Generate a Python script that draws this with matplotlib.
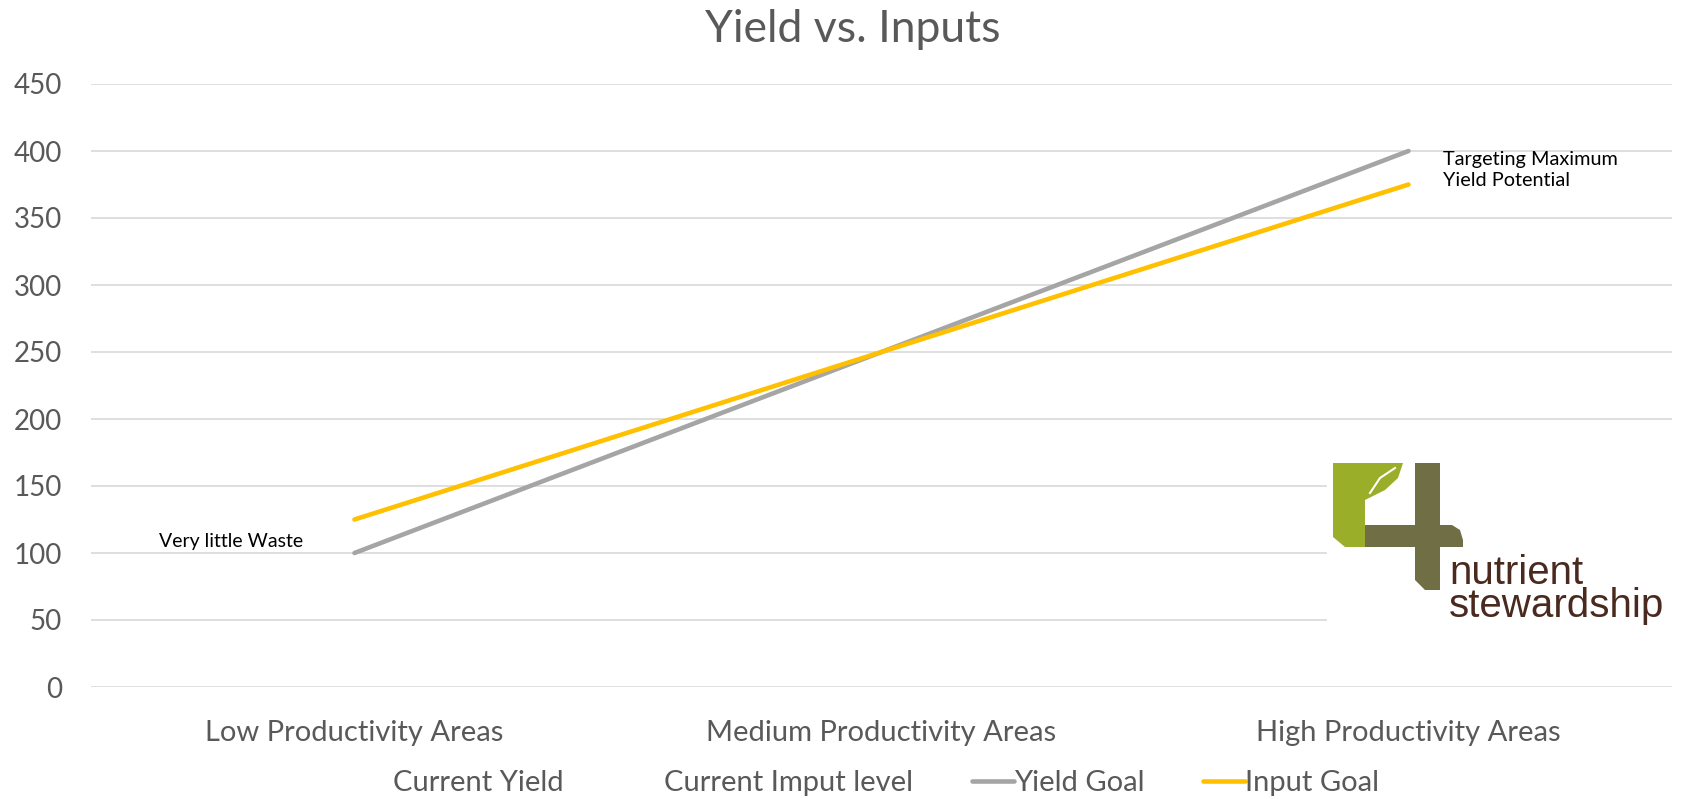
import matplotlib.pyplot as plt
from matplotlib.lines import Line2D
from matplotlib.patches import Polygon, Rectangle

W, H = 1686, 799

categories = ['Low Productivity Areas', 'Medium Productivity Areas', 'High Productivity Areas']
yield_goal = [100, 250, 400]
input_goal = [125, 250, 375]
y_ticks = [0, 50, 100, 150, 200, 250, 300, 350, 400, 450]

GRAY_TXT = '#595959'
GRID = '#D9D9D9'
YIELD_C = '#A5A5A5'
INPUT_C = '#FFC000'

plt.rcParams['font.family'] = ['Lato', 'DejaVu Sans']


def fx(px):
    return px / W


def fy(py):
    return 1 - py / H


def main():
    fig = plt.figure(figsize=(W / 100, H / 100), dpi=100)
    ax = fig.add_axes([fx(91), fy(687), fx(1672) - fx(91), fy(84) - fy(687)])

    x = range(len(categories))
    ax.plot(x, yield_goal, color=YIELD_C, lw=3.3, solid_capstyle='round', zorder=3)
    ax.plot(x, input_goal, color=INPUT_C, lw=3.3, solid_capstyle='round', zorder=3)

    ax.set_xlim(-0.5, 2.5)
    ax.set_ylim(0, 450)
    ax.set_yticks(y_ticks)
    ax.set_xticks(list(x))
    ax.set_xticklabels(categories)
    ax.tick_params(axis='both', length=0, colors=GRAY_TXT)
    ax.tick_params(axis='y', pad=21, labelsize=20)
    ax.tick_params(axis='x', pad=24, labelsize=21)
    ax.grid(axis='y', color=GRID, lw=1.2, zorder=0)
    ax.set_axisbelow(True)
    for s in ax.spines.values():
        s.set_visible(False)

    fig.text(fx(853), fy(30), 'Yield vs. Inputs', fontsize=32, color=GRAY_TXT,
             ha='center', va='center')

    # notes
    fig.text(fx(159), fy(541), 'Very little Waste', fontsize=14, color='black',
             ha='left', va='center')
    fig.text(fx(1443), fy(170), 'Targeting Maximum\nYield Potential', fontsize=14.3,
             color='black', ha='left', va='center', linespacing=1.3)

    # logo on white box (hides gridlines)
    fig.patches.append(Rectangle((fx(1327), fy(650)), fx(1672) - fx(1327), fy(455) - fy(650),
                                 transform=fig.transFigure, facecolor='white',
                                 edgecolor='none', zorder=4))
    green = '#9BAE2A'
    olive = '#6F6E45'
    r_pts = [(1333, 463), (1403, 463), (1398, 478), (1385, 490), (1365, 500),
             (1365, 547), (1345, 547), (1333, 537)]
    fig.patches.append(Polygon([(fx(a), fy(b)) for a, b in r_pts], closed=True,
                               transform=fig.transFigure, facecolor=green,
                               edgecolor='none', zorder=5))
    fig.lines.append(Line2D([fx(1370), fx(1380), fx(1395)], [fy(493), fy(478), fy(468)],
                            transform=fig.transFigure, color='white', lw=1.5, zorder=6))
    four_pts = [(1415, 463), (1440, 463), (1440, 525), (1452, 525), (1460, 530),
                (1463, 540), (1463, 547), (1440, 547), (1440, 590), (1425, 590),
                (1415, 580), (1415, 547), (1365, 547), (1365, 525), (1415, 525)]
    fig.patches.append(Polygon([(fx(a), fy(b)) for a, b in four_pts], closed=True,
                               transform=fig.transFigure, facecolor=olive,
                               edgecolor='none', zorder=5))
    brown = '#4A2A1F'
    fig.text(fx(1449), fy(617), 'nutrient\nstewardship', fontsize=29, color=brown,
             family=['Liberation Sans'], ha='left', va='baseline', linespacing=0.82,
             zorder=6)

    # legend
    handles = [Line2D([], [], color='none', lw=3.3),
               Line2D([], [], color='none', lw=3.3),
               Line2D([], [], color=YIELD_C, lw=3.3, solid_capstyle='round'),
               Line2D([], [], color=INPUT_C, lw=3.3, solid_capstyle='round')]
    labels = ['Current Yield', 'Current Imput level', 'Yield Goal', 'Input Goal']
    leg = fig.legend(handles, labels, loc='center', bbox_to_anchor=(fx(865), fy(783)),
                     ncol=4, frameon=False, fontsize=21, handlelength=1.45,
                     handletextpad=0.0, columnspacing=2.0, borderaxespad=0)
    for t in leg.get_texts():
        t.set_color(GRAY_TXT)

    fig.savefig('out.png', dpi=100)


if __name__ == '__main__':
    main()
